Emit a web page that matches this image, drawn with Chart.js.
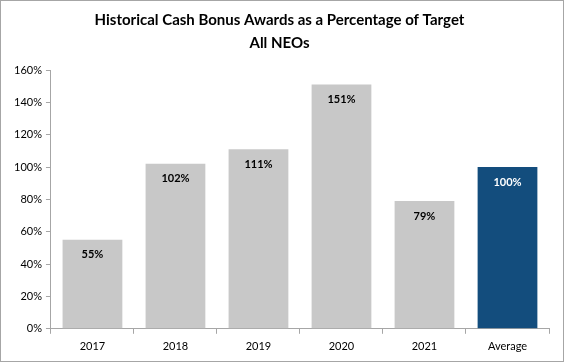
<!DOCTYPE html>
<html>
<head>
<meta charset="utf-8">
<script src="https://cdn.jsdelivr.net/npm/chart.js@4"></script>
<style>
  html, body { margin: 0; padding: 0; background: #fff; }
  #box { width: 564px; height: 362px; box-sizing: border-box; border: 1px solid #a6a6a6; }
  #box canvas { display: block; }
</style>
</head>
<body>
<div id="box"><canvas id="chart" width="562" height="360"></canvas></div>
<script>
// data
const categories = ['2017', '2018', '2019', '2020', '2021', 'Average'];
const bonusPct = [55, 102, 111, 151, 79, 100];
const barColors = ['#c8c8c8', '#c8c8c8', '#c8c8c8', '#c8c8c8', '#c8c8c8', '#134d7d'];
const labelColors = ['#000', '#000', '#000', '#000', '#000', '#fff'];
const yTicks = [0, 20, 40, 60, 80, 100, 120, 140, 160];

const fontName = 'Lato, "Open Sans", sans-serif';

// draws the value labels inside each bar, near the top
const barLabels = {
  id: 'barLabels',
  afterDatasetsDraw(chart) {
    const ctx = chart.ctx;
    const meta = chart.getDatasetMeta(0);
    ctx.save();
    ctx.font = 'bold 11px ' + fontName;
    ctx.textAlign = 'center';
    ctx.textBaseline = 'middle';
    meta.data.forEach((bar, i) => {
      ctx.fillStyle = labelColors[i];
      ctx.fillText(bonusPct[i] + '%', bar.x, bar.y + 15);
    });
    ctx.restore();
  }
};

new Chart(document.getElementById('chart'), {
  type: 'bar',
  data: {
    labels: categories,
    datasets: [{
      data: bonusPct,
      backgroundColor: barColors,
      borderWidth: 0,
      categoryPercentage: 1,
      barPercentage: 0.72
    }]
  },
  options: {
    responsive: false,
    animation: false,
    layout: { padding: { left: 9, right: 14, top: 0, bottom: 2 } },
    plugins: {
      legend: { display: false },
      tooltip: { enabled: false },
      title: {
        display: true,
        text: ['Historical Cash Bonus Awards as a Percentage of Target', 'All NEOs'],
        color: '#000',
        font: { family: fontName, size: 15, weight: 'bold', lineHeight: 1.5 },
        padding: { top: 8, bottom: 16 }
      }
    },
    scales: {
      x: {
        grid: { display: true, drawOnChartArea: false, offset: true, tickLength: 5, color: '#a6a6a6' },
        border: { color: '#a6a6a6' },
        ticks: { color: '#000', font: { family: fontName, size: 11 }, padding: 6 }
      },
      y: {
        min: 0,
        max: 160,
        afterBuildTicks(axis) { axis.ticks = yTicks.map(v => ({ value: v })); },
        grid: { display: true, drawOnChartArea: false, tickLength: 5, color: '#a6a6a6' },
        border: { color: '#a6a6a6' },
        ticks: {
          color: '#000',
          font: { family: fontName, size: 11 },
          padding: 4,
          callback: v => v + '%'
        }
      }
    }
  },
  plugins: [barLabels]
});
</script>
</body>
</html>
